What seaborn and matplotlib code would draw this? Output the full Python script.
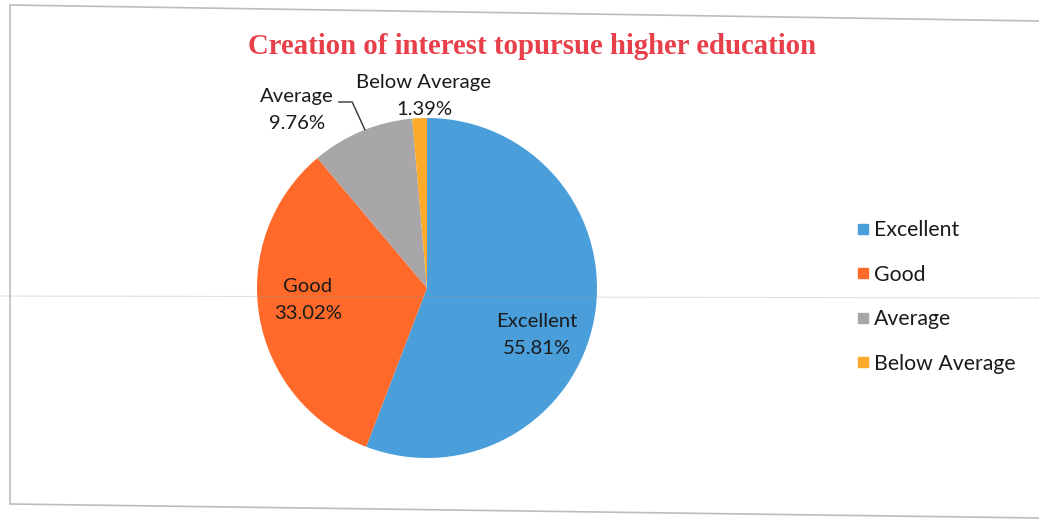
import numpy as np
import seaborn as sns
import matplotlib.pyplot as plt
from matplotlib.lines import Line2D

# Pie of responses: creation of interest to pursue higher education
categories = ["Excellent", "Good", "Average", "Below Average"]
shares = [55.81, 33.02, 9.76, 1.39]
colors = ["#4A9FDB", "#FF6A2A", "#A8A6A8", "#FBAA2A"]
title = "Creation of interest topursue higher education"

sns.set_theme(style="white")
plt.rcParams["font.family"] = ["Lato", "DejaVu Sans"]

W, H = 1039, 520
fig = plt.figure(figsize=(W / 100, H / 100), dpi=100)
fig.patch.set_facecolor("white")

# scanned frame, slightly tilted (top, left, bottom edges)
fig.add_artist(Line2D([10 / W, 1.0, ], [1 - 5 / H, 1 - 21 / H],
                      color="#BDBDBD", lw=1.2, transform=fig.transFigure))
fig.add_artist(Line2D([10 / W, 10 / W], [1 - 5 / H, 1 - 504 / H],
                      color="#BDBDBD", lw=1.2, transform=fig.transFigure))
fig.add_artist(Line2D([10 / W, 1.0], [1 - 504 / H, 1 - 518 / H],
                      color="#BDBDBD", lw=1.2, transform=fig.transFigure))

cx, cy, r = 427, 288, 170
ax = fig.add_axes([(cx - r) / W, (H - cy - r) / H, 2 * r / W, 2 * r / H])
wedges, _ = ax.pie(shares, colors=colors, startangle=90, counterclock=False,
                   radius=1.0, wedgeprops=dict(linewidth=0))
ax.set_xlim(-1, 1)
ax.set_ylim(-1, 1)
ax.set_aspect("equal")
ax.axis("off")

lab_kw = dict(fontsize=14.6, color="#1A1A1A", ha="center", va="center",
              linespacing=1.7)
label_pos = {
    "Excellent": (0.647, -0.276),
    "Good": (-0.70, -0.07),
    "Average": (-0.765, 1.047),
    "Below Average": (-0.018, 1.13),
}
for cat, val in zip(categories, shares):
    x, y = label_pos[cat]
    ax.text(x, y, f"{cat}\n{val:.2f}%", **lab_kw)

# leader line for Average
ax.plot([-0.52, -0.44, -0.365], [1.094, 1.094, 0.93], color="#333333",
        lw=1.0, clip_on=False)

fig.text(532 / W, 1 - 47 / H, title, fontsize=20.7, fontweight="bold",
         family="Liberation Serif", color="#E8404A", ha="center", va="center")

handles = [Line2D([0], [0], marker="s", linestyle="", markersize=7.5,
                  markerfacecolor=c, markeredgecolor=c) for c in colors]
fig.legend(handles, categories, loc="center left",
           bbox_to_anchor=(837 / W, 1 - 297 / H), frameon=False,
           fontsize=15.3, labelspacing=1.15, handlelength=0.6,
           handletextpad=0.25, labelcolor="#1A1A1A")

# faint fold line from the scan
fig.add_artist(Line2D([0, 1], [1 - 296 / H, 1 - 298 / H], color="#999999",
                      lw=0.8, alpha=0.3, transform=fig.transFigure))

fig.savefig("out.png", dpi=100)
